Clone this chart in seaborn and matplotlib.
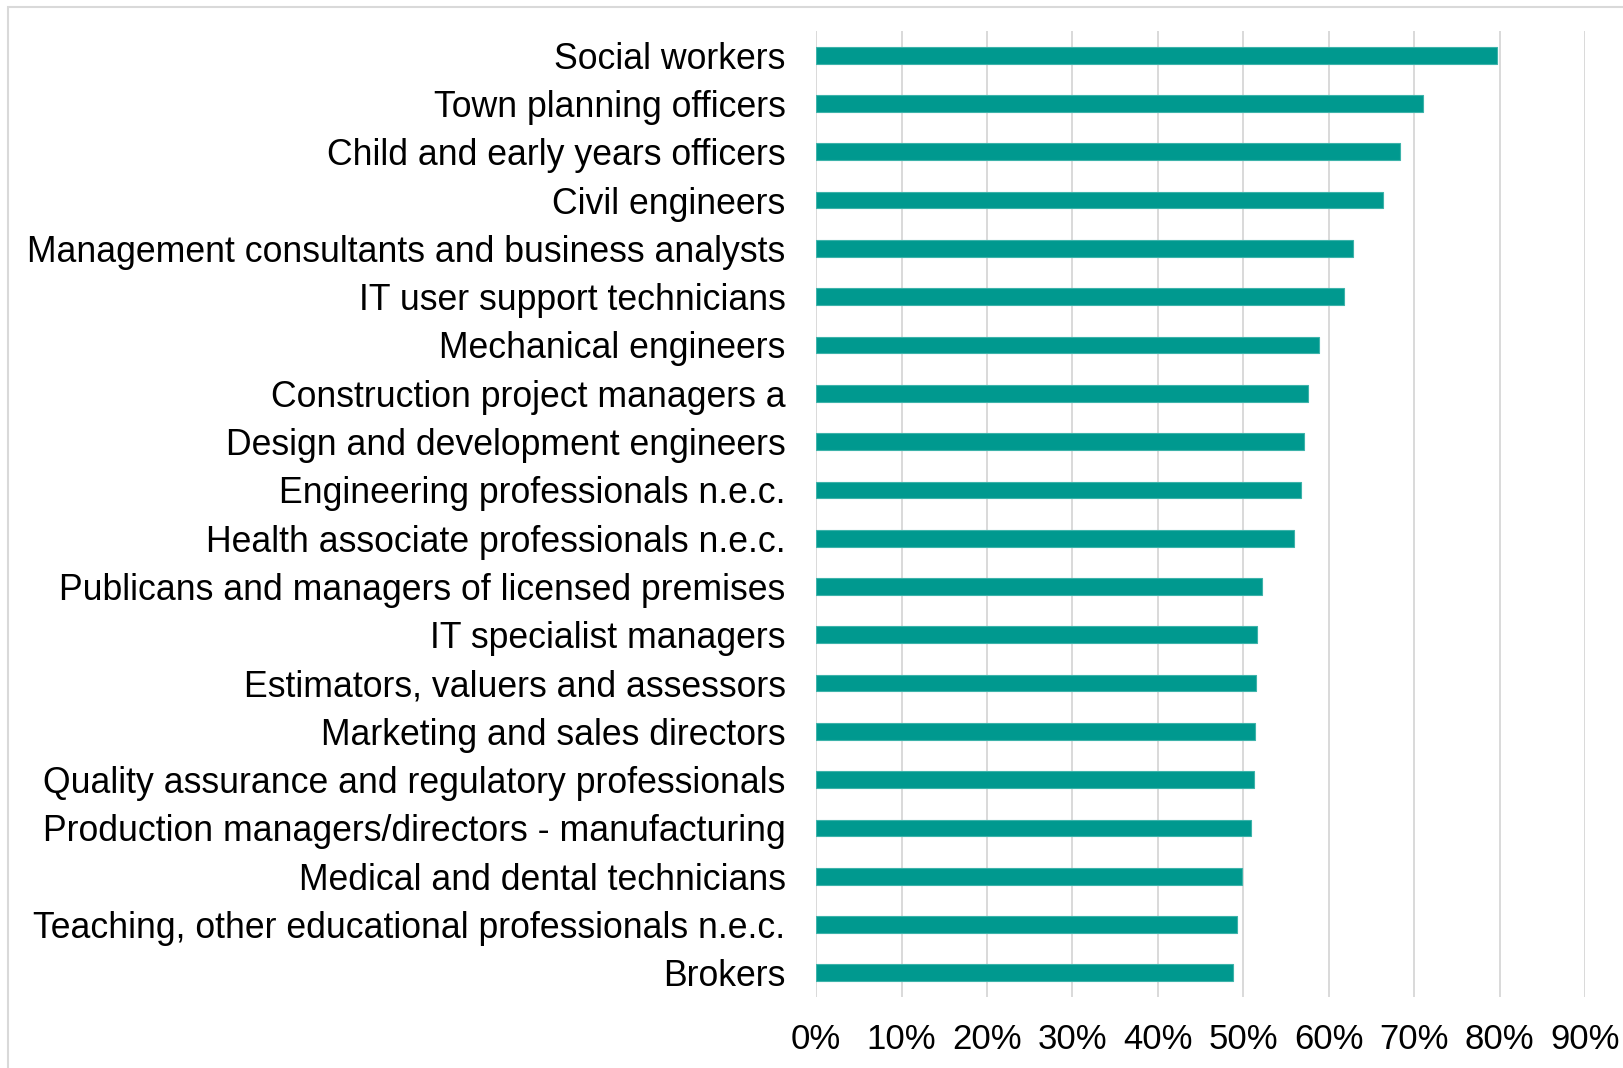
import matplotlib
matplotlib.use("Agg")
import matplotlib.pyplot as plt
import seaborn as sns
import pandas as pd
from matplotlib.patches import Rectangle
from matplotlib.ticker import FuncFormatter, MultipleLocator

occupations = [
    "Social workers",
    "Town planning officers",
    "Child and early years officers",
    "Civil engineers",
    "Management consultants and business analysts",
    "IT user support technicians",
    "Mechanical engineers",
    "Construction project managers a",
    "Design and development engineers",
    "Engineering professionals n.e.c.",
    "Health associate professionals n.e.c.",
    "Publicans and managers of licensed premises",
    "IT specialist managers",
    "Estimators, valuers and assessors",
    "Marketing and sales directors",
    "Quality assurance and regulatory professionals",
    "Production managers/directors - manufacturing",
    "Medical and dental technicians",
    "Teaching, other educational professionals n.e.c.",
    "Brokers",
]
shares = [0.797, 0.710, 0.683, 0.663, 0.629, 0.618, 0.589, 0.576, 0.571, 0.567,
          0.559, 0.522, 0.516, 0.515, 0.514, 0.513, 0.509, 0.499, 0.493, 0.488]

df = pd.DataFrame({"occupation": occupations, "share": shares})

sns.set_theme(style="white")
plt.rcParams["font.family"] = ["Liberation Sans", "DejaVu Sans"]

fig = plt.figure(figsize=(16.24, 10.68), dpi=100)
ax = fig.add_axes([0.5025, 0.0665, 0.4735, 0.9044])

sns.barplot(data=df, x="share", y="occupation", orient="h", color="#00998F",
            saturation=1, width=0.345, edgecolor="#3DB3AA", linewidth=0.8, ax=ax)

ax.set_xlim(0, 0.9)
ax.xaxis.set_major_locator(MultipleLocator(0.1))
ax.xaxis.set_major_formatter(FuncFormatter(lambda v, _: f"{v * 100:.0f}%"))
ax.grid(axis="x", color="#D9D9D9", linewidth=1.4)
ax.set_axisbelow(True)
for s in ax.spines.values():
    s.set_visible(False)
ax.set_xlabel("")
ax.set_ylabel("")
ax.tick_params(axis="x", length=0, pad=19, labelsize=25, labelcolor="black")
ax.tick_params(axis="y", length=0, pad=22, labelsize=25.7, labelcolor="black")

# light frame around the chart area
fig.patches.append(Rectangle((8 / 1624, -0.01), 1.02, 1 - 7 / 1068 + 0.01,
                             transform=fig.transFigure, fill=False,
                             edgecolor="#D9D9D9", linewidth=1.5))

fig.savefig("out.png", dpi=100)
